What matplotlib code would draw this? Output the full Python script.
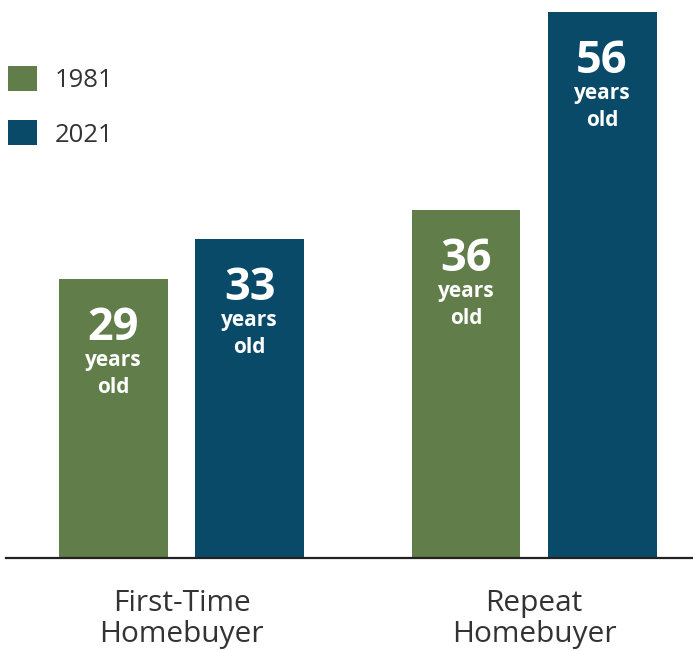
import matplotlib
matplotlib.use("Agg")
import matplotlib.pyplot as plt
import numpy as np

categories = ["First-Time\nHomebuyer", "Repeat\nHomebuyer"]
years = ["1981", "2021"]
ages_1981 = [29, 36]
ages_2021 = [33, 56]
colors = {"1981": "#617d4a", "2021": "#0a4a69"}

W, H, DPI = 693, 651, 100
fig = plt.figure(figsize=(W / DPI, H / DPI), dpi=DPI)
# axes: from x=6px to right edge, baseline at y=558px from top
ax = fig.add_axes([6 / W, (H - 558) / H, (W - 6) / W, 558 / H])

x = np.arange(len(categories))
width = 0.309
offset = 0.193

b1 = ax.bar(x - offset, ages_1981, width, color=colors["1981"], label=years[0])
b2 = ax.bar(x + offset, ages_2021, width, color=colors["2021"], label=years[1])

ax.set_xlim(-0.498, 1.451)
ax.set_ylim(0.79, 57.2)

for s in ["top", "right", "left"]:
    ax.spines[s].set_visible(False)
ax.spines["bottom"].set_color("#222222")
ax.spines["bottom"].set_linewidth(1.6)
ax.set_yticks([])
ax.set_xticks(x)
ax.set_xticklabels(categories, fontsize=21.5, family="Open Sans", color="#333333",
                   linespacing=1.12)
ax.tick_params(axis="x", length=0, pad=22)

for bars in (b1, b2):
    for rect in bars:
        v = rect.get_height()
        cx = rect.get_x() + rect.get_width() / 2
        ax.annotate(f"{v:g}", (cx, v), xytext=(0, -43.9), textcoords="offset points",
                    ha="center", va="baseline", color="white", fontsize=32.5,
                    fontweight="bold", family="Open Sans")
        ax.annotate("years", (cx, v), xytext=(0, -62.5), textcoords="offset points",
                    ha="center", va="baseline", color="white", fontsize=15,
                    fontweight="bold", family="Open Sans")
        ax.annotate("old", (cx, v), xytext=(0, -82.1), textcoords="offset points",
                    ha="center", va="baseline", color="white", fontsize=15,
                    fontweight="bold", family="Open Sans")

leg = fig.legend(handles=[b1, b2], labels=years, loc="upper left",
                 bbox_to_anchor=(8 / W, 1 - 66 / H), frameon=False,
                 prop={"family": "Open Sans", "size": 18.5},
                 handlelength=1.13, handleheight=1.13, handletextpad=0.7,
                 labelspacing=1.05, borderaxespad=0, borderpad=0)
for t in leg.get_texts():
    t.set_color("#333333")

fig.savefig("out.png", dpi=DPI)
